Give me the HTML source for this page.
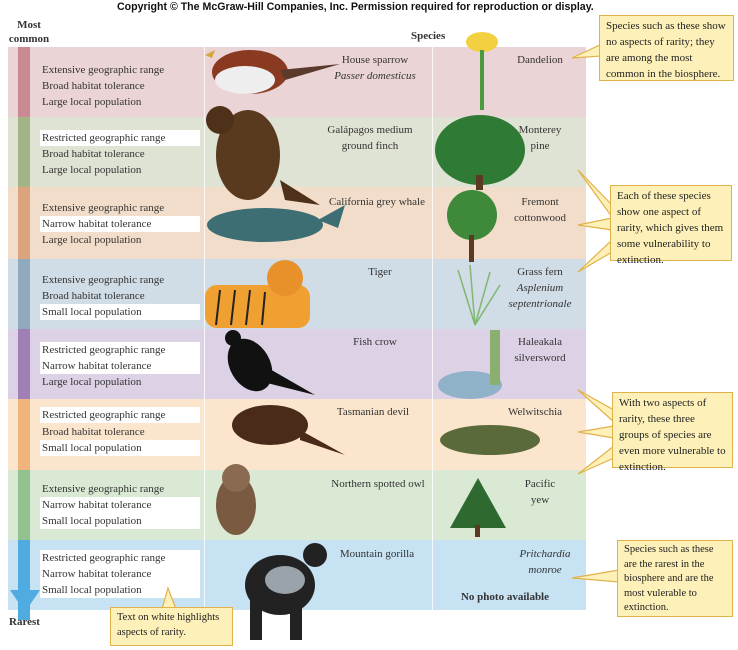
<!DOCTYPE html>
<html><head><meta charset="utf-8"><style>
body{margin:0;width:738px;height:650px;background:#fff;position:relative;overflow:hidden;font-family:"Liberation Serif",serif;color:#333}
.a{position:absolute}
.row{position:absolute;left:8px;width:578px}
.st{position:absolute;left:10px;width:12px;top:0;bottom:0}
.t{position:absolute;left:32px;width:158px;height:16px;font-size:11px;line-height:16px;padding-left:2px}
.w{background:#fff}
.lab{position:absolute;font-size:11px;text-align:center;line-height:16px}
.box{position:absolute;background:#fdf0b8;border:1.5px solid #e0b24a;font-size:11px;line-height:16px;padding:2px 6px;box-sizing:border-box;color:#222}
.vl{position:absolute;top:47px;height:563px;width:1px;background:#fff;opacity:.8}
</style></head><body>
<div class="a" style="left:117px;top:1px;font-family:'Liberation Sans',sans-serif;font-weight:bold;font-size:10.6px;color:#111;white-space:nowrap">Copyright © The McGraw-Hill Companies, Inc. Permission required for reproduction or display.</div>
<div class="a" style="left:4px;top:18px;width:50px;text-align:center;font-weight:bold;font-size:11px;line-height:14px">Most<br>common</div>
<div class="a" style="left:411px;top:30px;font-weight:bold;font-size:11px">Species</div>

<div class="row" style="top:47px;height:70px;background:#ead4d6"><div class="st" style="background:#c98a94"></div>
<div class="t" style="top:15px">Extensive geographic range</div><div class="t" style="top:31px">Broad habitat tolerance</div><div class="t" style="top:47px">Large local population</div></div>
<div class="row" style="top:117px;height:70px;background:#dfe3d4"><div class="st" style="background:#a3b486"></div>
<div class="t w" style="top:13px">Restricted geographic range</div><div class="t" style="top:29px">Broad habitat tolerance</div><div class="t" style="top:45px">Large local population</div></div>
<div class="row" style="top:187px;height:72px;background:#f2ddca"><div class="st" style="background:#d9a47e"></div>
<div class="t" style="top:13px">Extensive geographic range</div><div class="t w" style="top:29px">Narrow habitat tolerance</div><div class="t" style="top:45px">Large local population</div></div>
<div class="row" style="top:259px;height:70px;background:#d0dce6"><div class="st" style="background:#8fa9bf"></div>
<div class="t" style="top:13px">Extensive geographic range</div><div class="t" style="top:29px">Broad habitat tolerance</div><div class="t w" style="top:45px">Small local population</div></div>
<div class="row" style="top:329px;height:70px;background:#ddd1e5"><div class="st" style="background:#a07fb6"></div>
<div class="t w" style="top:13px">Restricted geographic range</div><div class="t w" style="top:29px">Narrow habitat tolerance</div><div class="t" style="top:45px">Large local population</div></div>
<div class="row" style="top:399px;height:71px;background:#fbe5cd"><div class="st" style="background:#f0b47c"></div>
<div class="t w" style="top:8px">Restricted geographic range</div><div class="t" style="top:25px">Broad habitat tolerance</div><div class="t w" style="top:41px">Small local population</div></div>
<div class="row" style="top:470px;height:70px;background:#d9e9d4"><div class="st" style="background:#93c291"></div>
<div class="t" style="top:11px">Extensive geographic range</div><div class="t w" style="top:27px">Narrow habitat tolerance</div><div class="t w" style="top:43px">Small local population</div></div>
<div class="row" style="top:540px;height:70px;background:#c6e2f3"><div class="st" style="background:#4fabe0;bottom:-10px"></div>
<div class="t w" style="top:10px;height:48px"></div>
<div class="t" style="top:10px">Restricted geographic range</div><div class="t" style="top:26px">Narrow habitat tolerance</div><div class="t" style="top:42px">Small local population</div></div>
<svg class="a" style="left:8px;top:590px" width="34" height="26"><polygon points="2,0 32,0 17,22" fill="#4fabe0"/></svg>
<div class="a" style="left:9px;top:616px;font-weight:bold;font-size:11px">Rarest</div>
<div class="vl" style="left:204px"></div><div class="vl" style="left:432px"></div>

<svg class="a" style="left:0;top:0" width="600" height="650">
<ellipse cx="250" cy="72" rx="38" ry="22" fill="#8b3a22"/><ellipse cx="245" cy="80" rx="30" ry="14" fill="#eee"/><polygon points="280,70 340,64 285,80" fill="#5a3a2a"/><polygon points="205,55 215,50 212,58" fill="#d9a63a"/>
<ellipse cx="248" cy="155" rx="32" ry="45" fill="#5a3a1f"/><circle cx="220" cy="120" r="14" fill="#4d3118"/><polygon points="280,180 320,205 285,200" fill="#4d3118"/>
<ellipse cx="265" cy="225" rx="58" ry="17" fill="#3d6e74"/><polygon points="318,220 345,205 338,228" fill="#3d6e74"/>
<rect x="205" y="285" width="105" height="43" rx="12" fill="#f0a030"/><circle cx="285" cy="278" r="18" fill="#e8902a"/>
<g stroke="#222" stroke-width="2"><line x1="220" y1="290" x2="216" y2="325"/><line x1="235" y1="290" x2="231" y2="325"/><line x1="250" y1="290" x2="246" y2="325"/><line x1="265" y1="292" x2="262" y2="325"/></g>
<ellipse cx="250" cy="365" rx="20" ry="28" fill="#111" transform="rotate(-30 250 365)"/><polygon points="255,380 315,395 268,368" fill="#111"/><circle cx="233" cy="338" r="8" fill="#111"/>
<ellipse cx="270" cy="425" rx="38" ry="20" fill="#4a2a18"/><polygon points="300,430 345,455 300,440" fill="#4a2a18"/>
<ellipse cx="236" cy="505" rx="20" ry="30" fill="#7a5a40"/><circle cx="236" cy="478" r="14" fill="#8a6a50"/>
<ellipse cx="280" cy="585" rx="35" ry="30" fill="#222"/><ellipse cx="285" cy="580" rx="20" ry="14" fill="#9aa2aa"/><circle cx="315" cy="555" r="12" fill="#222"/><rect x="250" y="600" width="12" height="40" fill="#222"/><rect x="290" y="600" width="12" height="40" fill="#222"/>
<ellipse cx="482" cy="42" rx="16" ry="10" fill="#f2d040"/><rect x="480" y="50" width="4" height="60" fill="#4a9a40"/>
<ellipse cx="480" cy="150" rx="45" ry="35" fill="#2f7a35"/><rect x="476" y="175" width="7" height="15" fill="#5a3a20"/>
<ellipse cx="472" cy="215" rx="25" ry="25" fill="#3e8a3a"/><rect x="469" y="235" width="5" height="27" fill="#5a3a20"/>
<g stroke="#7fb870" stroke-width="1.5"><line x1="475" y1="325" x2="458" y2="270"/><line x1="475" y1="325" x2="470" y2="265"/><line x1="475" y1="325" x2="490" y2="272"/><line x1="475" y1="325" x2="500" y2="285"/></g>
<ellipse cx="470" cy="385" rx="32" ry="14" fill="#8fb2c8"/><rect x="490" y="330" width="10" height="55" fill="#8ab070"/>
<ellipse cx="490" cy="440" rx="50" ry="15" fill="#5a6a3a"/>
<polygon points="478,478 450,528 506,528" fill="#2e6a30"/><rect x="475" y="525" width="5" height="12" fill="#5a3a20"/>
</svg>

<div class="lab" style="left:330px;top:52px;width:90px">House sparrow<br><i>Passer domesticus</i></div>
<div class="lab" style="left:320px;top:122px;width:100px">Galápagos medium<br>ground finch</div>
<div class="lab" style="left:322px;top:194px;width:110px">California grey whale</div>
<div class="lab" style="left:355px;top:264px;width:50px">Tiger</div>
<div class="lab" style="left:345px;top:334px;width:60px">Fish crow</div>
<div class="lab" style="left:328px;top:404px;width:90px">Tasmanian devil</div>
<div class="lab" style="left:323px;top:476px;width:110px">Northern spotted owl</div>
<div class="lab" style="left:332px;top:546px;width:90px">Mountain gorilla</div>
<div class="lab" style="left:510px;top:52px;width:60px">Dandelion</div>
<div class="lab" style="left:510px;top:122px;width:60px">Monterey<br>pine</div>
<div class="lab" style="left:505px;top:194px;width:70px">Fremont<br>cottonwood</div>
<div class="lab" style="left:500px;top:264px;width:80px">Grass fern<br><i>Asplenium<br>septentrionale</i></div>
<div class="lab" style="left:505px;top:334px;width:70px">Haleakala<br>silversword</div>
<div class="lab" style="left:500px;top:404px;width:70px">Welwitschia</div>
<div class="lab" style="left:505px;top:476px;width:70px">Pacific<br>yew</div>
<div class="lab" style="left:510px;top:546px;width:70px"><i>Pritchardia<br>monroe</i></div>
<div class="lab" style="left:450px;top:589px;width:110px;font-weight:bold">No photo available</div>

<svg class="a" style="left:0;top:0" width="738" height="650">
<g fill="#fdf0b8" stroke="#e0b24a" stroke-width="1.2">
<polygon points="572,58 602,44 602,56"/>
<polygon points="578,170 612,205 612,217"/>
<polygon points="578,225 612,218 612,230"/>
<polygon points="578,272 612,240 612,252"/>
<polygon points="578,390 614,410 614,422"/>
<polygon points="578,432 614,426 614,438"/>
<polygon points="578,474 614,446 614,458"/>
<polygon points="572,578 619,570 619,582"/>
<polygon points="168,588 162,609 176,609"/>
</g></svg>

<div class="box" style="left:599px;top:15px;width:135px;height:66px">Species such as these show no aspects of rarity; they are among the most common in the biosphere.</div>
<div class="box" style="left:610px;top:185px;width:122px;height:76px">Each of these species show one aspect of rarity, which gives them some vulnerability to extinction.</div>
<div class="box" style="left:612px;top:392px;width:121px;height:76px">With two aspects of rarity, these three groups of species are even more vulnerable to extinction.</div>
<div class="box" style="left:617px;top:540px;width:116px;height:77px;font-size:10.5px;line-height:14.5px">Species such as these are the rarest in the biosphere and are the most vulerable to extinction.</div>
<div class="box" style="left:110px;top:607px;width:123px;height:39px;font-size:10.5px;line-height:15px">Text on white highlights aspects of rarity.</div>
</body></html>
